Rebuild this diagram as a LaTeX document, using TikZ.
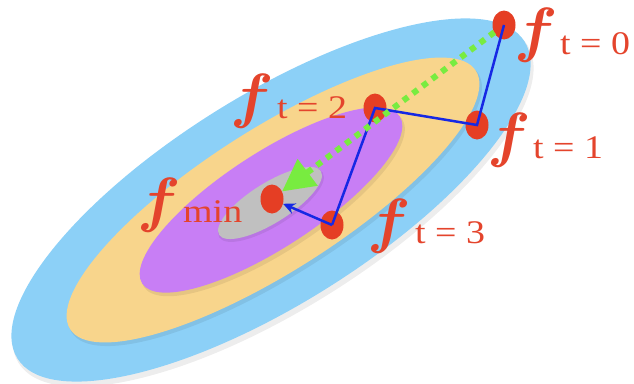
\documentclass[tikz,border=0pt]{standalone}
\usepackage{fontspec}
\setmainfont{Liberation Serif}
\usepackage{graphicx}
\usepackage{bm}
\usetikzlibrary{shapes.geometric,arrows.meta}
\definecolor{skyb}{RGB}{140,208,247}
\definecolor{orng}{RGB}{248,213,140}
\definecolor{purp}{RGB}{200,126,245}
\definecolor{grayel}{RGB}{192,192,192}
\definecolor{dotred}{RGB}{229,62,36}
\definecolor{txtred}{RGB}{228,68,44}
\definecolor{pathblue}{RGB}{22,40,228}
\definecolor{grn}{RGB}{120,236,64}
\begin{document}
\begin{tikzpicture}[x=1pt,y=1pt,
  dot/.style={ellipse,fill=dotred,minimum width=23pt,minimum height=29pt,inner sep=0pt,draw=none},
  fsym/.style={anchor=base west,inner sep=0pt,text=txtred,font=\normalsize},
  fsub/.style={anchor=base west,inner sep=0pt,text=txtred,font=\fontsize{33}{33}\selectfont},
  bluepath/.style={draw=pathblue,line width=2.5pt},
  greenpath/.style={draw=grn,line width=6pt,dash pattern=on 6pt off 6pt},
  shade/.style={fill=black,opacity=0.07}
]
\useasboundingbox (0,0) rectangle (634,-383);
% contour ellipses
\fill[shade,rotate around={32:(273,-204)}] (273,-204) ellipse [x radius=300, y radius=106];
\fill[skyb,rotate around={32:(271,-200)}] (271,-200) ellipse [x radius=299, y radius=104.5];
\fill[shade,rotate around={32.5:(275,-203)}] (275,-203) ellipse [x radius=241, y radius=72];
\fill[orng,rotate around={32.5:(273,-200)}] (273,-200) ellipse [x radius=240.5, y radius=71];
\fill[shade,rotate around={33:(273,-203)}] (273,-203) ellipse [x radius=154, y radius=48.5];
\fill[purp,rotate around={33:(271,-200)}] (271,-200) ellipse [x radius=153.5, y radius=47.5];
\fill[shade,rotate around={32:(271,-205)}] (271,-205) ellipse [x radius=61, y radius=21];
\fill[grayel,rotate around={32:(270,-203)}] (270,-203) ellipse [x radius=60, y radius=20];
% points
\node[dot] (p0) at (504,-25) {};
\node[dot] (p1) at (477,-125) {};
\node[dot] (p2) at (375,-108) {};
\node[dot] (p3) at (332,-225) {};
\node[dot] (pmin) at (272,-199) {};
% gradient descent path
\draw[bluepath] (p0.center) -- (p1.center) -- (p2.center) -- (p3.center);
\draw[bluepath,-{Stealth[length=12pt,width=11pt]}] (p3.center) -- (pmin);
% direct path
\draw[greenpath,shorten <=12pt,-{Triangle[length=32pt,width=32pt]}] (p0.center) -- (pmin);
% labels
\node[fsym] (f0) at (514,-50) {\scalebox{6.4}[6.1]{$\bm{f}$}};
\node[fsub] (s0) at (560,-54) {\scalebox{1.15}[1]{t = 0}};
\node[fsym] (f1) at (487,-155) {\scalebox{6.4}[6.1]{$\bm{f}$}};
\node[fsub] (s1) at (533,-158) {\scalebox{1.15}[1]{t = 1}};
\node[fsym] (f2) at (230,-116) {\scalebox{6.4}[6.1]{$\bm{f}$}};
\node[fsub] (s2) at (277,-118) {\scalebox{1.15}[1]{t = 2}};
\node[fsym] (f3) at (367,-241) {\scalebox{6.4}[6.1]{$\bm{f}$}};
\node[fsub] (s3) at (415,-243) {\scalebox{1.15}[1]{t = 3}};
\node[fsym] (fm) at (137,-220) {\scalebox{6.4}[6.1]{$\bm{f}$}};
\node[fsub] (sm) at (183,-222) {\scalebox{1.15}[1]{min}};
\end{tikzpicture}
\end{document}
